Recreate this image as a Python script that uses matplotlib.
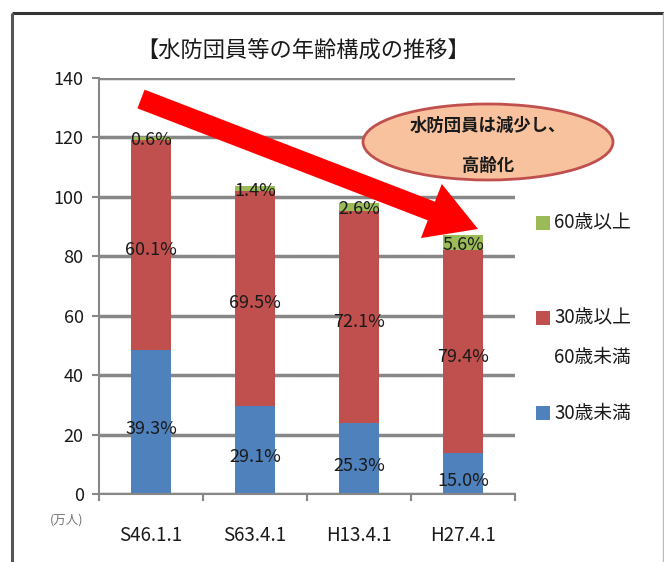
import matplotlib
matplotlib.use('Agg')
import matplotlib.pyplot as plt
from matplotlib.patches import Ellipse, Rectangle, Polygon
import numpy as np

plt.rcParams['font.family'] = ['Noto Sans CJK JP', 'DejaVu Sans']

# ---- data ----
categories = ['S46.1.1', 'S63.4.1', 'H13.4.1', 'H27.4.1']
under30 = [48.3, 29.5, 23.8, 13.7]
mid30_60 = [71.0, 72.6, 71.6, 68.3]
over60 = [0.7, 1.4, 2.5, 5.0]
pct_under30 = ['39.3%', '29.1%', '25.3%', '15.0%']
pct_mid = ['60.1%', '69.5%', '72.1%', '79.4%']
pct_over60 = ['0.6%', '1.4%', '2.6%', '5.6%']
series_names = ['60歳以上', '30歳以上\n60歳未満', '30歳未満']
yticks = [0, 20, 40, 60, 80, 100, 120, 140]

C_BLUE = '#4f81bd'
C_RED = '#c0504d'
C_GREEN = '#9bbb59'
C_GRID = '#878787'
TXT = '#1a1a1a'

W, H = 664, 562
fig = plt.figure(figsize=(W / 100, H / 100), dpi=100)
fig.patch.set_facecolor('white')

L, R, T, B = 99, 515, 78, 494
ax = fig.add_axes([L / W, 1 - B / H, (R - L) / W, (B - T) / H])
x = np.arange(len(categories))
bw = 0.38
u = np.array(under30)
m = np.array(mid30_60)
o = np.array(over60)
ax.bar(x, u, bw, color=C_BLUE, zorder=3)
ax.bar(x, m, bw, bottom=u, color=C_RED, zorder=3)
ax.bar(x, o, bw, bottom=u + m, color=C_GREEN, zorder=3)

ax.set_xlim(-0.5, len(categories) - 0.5)
ax.set_ylim(0, 140)
ax.set_yticks(yticks)
ax.set_yticklabels([str(v) for v in yticks], fontsize=13, color=TXT)
ax.set_xticks(x)
ax.set_xticklabels(categories, fontsize=13.5, color=TXT)
ax.set_xticks(np.arange(-0.5, len(categories), 1.0), minor=True)
ax.tick_params(axis='x', which='major', length=0, pad=22)
ax.tick_params(axis='x', which='minor', length=5, width=1.5, color=C_GRID, direction='out')
ax.tick_params(axis='y', which='major', length=5, width=1.5, color=C_GRID, pad=6)
ax.yaxis.grid(True, color=C_GRID, linewidth=2.5)
ax.set_axisbelow(True)
for s in ['top', 'right']:
    ax.spines[s].set_visible(False)
for s in ['left', 'bottom']:
    ax.spines[s].set_color(C_GRID)
    ax.spines[s].set_linewidth(1.5)
ax.spines['bottom'].set_zorder(4)

for i in range(len(categories)):
    ax.annotate(pct_under30[i], (x[i], u[i] / 2), xytext=(0, -7), textcoords='offset pixels',
                ha='center', va='center', fontsize=13, color=TXT, zorder=5)
    ax.annotate(pct_mid[i], (x[i], u[i] + m[i] / 2), xytext=(0, -5), textcoords='offset pixels',
                ha='center', va='center', fontsize=13, color=TXT, zorder=5)
    ax.annotate(pct_over60[i], (x[i], u[i] + m[i] + o[i] / 2), xytext=(0, -2), textcoords='offset pixels',
                ha='center', va='center', fontsize=13, color=TXT, zorder=5)

# ---- overlay in pixel coordinates ----
ov = fig.add_axes([0, 0, 1, 1])
ov.set_xlim(0, W)
ov.set_ylim(H, 0)
ov.axis('off')
ov.patch.set_alpha(0)

# frame (top and left dark, right faint)
ov.plot([12, W], [13, 13], color='#333333', linewidth=2.2, solid_capstyle='butt')
ov.plot([12, 12], [13, H], color='#555555', linewidth=2.2, solid_capstyle='butt')
ov.plot([662.5, 662.5], [13, H], color='#bbbbbb', linewidth=1.0)

# title
ov.text(303, 51, '【水防団員等の年齢構成の推移】', ha='center', va='center', fontsize=16, color=TXT)

# unit label
ov.text(67, 520, '(万人)', ha='center', va='center', fontsize=9, color='#777777')

# arrow
p0 = np.array([141.0, 99.0])
tip = np.array([478.0, 229.0])
d = tip - p0
d = d / np.hypot(*d)
n = np.array([-d[1], d[0]])
hl, hw, sw = 50, 29, 10
base = tip - d * hl
pts = [p0 + n * sw, base + n * sw, base + n * hw, tip, base - n * hw, base - n * sw, p0 - n * sw]
ov.add_patch(Polygon(pts, closed=True, facecolor='#ff0000', edgecolor='none', zorder=5))

# callout ellipse
ov.add_patch(Ellipse((488, 142), 250, 76, facecolor='#f8c29e', edgecolor=C_RED, linewidth=2, zorder=6))
ov.text(488, 126, '水防団員は減少し、', ha='center', va='center', fontsize=12.5,
        fontweight='bold', color=TXT, zorder=7)
ov.text(488, 166, '高齢化', ha='center', va='center', fontsize=12.5,
        fontweight='bold', color=TXT, zorder=7)

# legend
leg_colors = [C_GREEN, C_RED, C_BLUE]
leg_y = [223, 318, 413]
for c, yy, name in zip(leg_colors, leg_y, series_names):
    ov.add_patch(Rectangle((536, yy - 7), 14, 14, facecolor=c, edgecolor='none'))
    for k, ln in enumerate(name.split('\n')):
        ov.text(554, yy + k * 39, ln, ha='left', va='center', fontsize=13.5, color=TXT)

fig.savefig('out.png', dpi=100, facecolor='white')
